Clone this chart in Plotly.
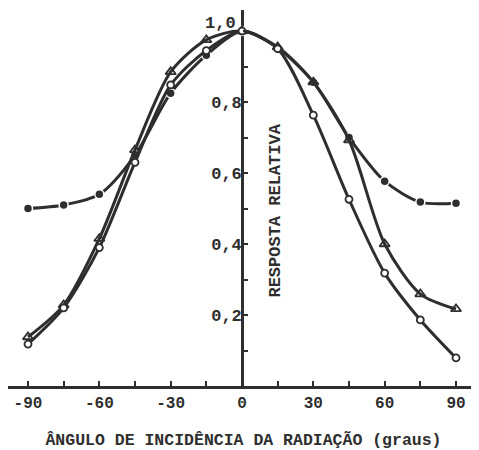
import plotly.graph_objects as go

angles = [-90, -75, -60, -45, -30, -15, 0, 15, 30, 45, 60, 75, 90]
serie_ponto = [0.50, 0.51, 0.54, 0.65, 0.825, 0.932, 1.0, 0.952, 0.856, 0.70, 0.577, 0.518, 0.515]
serie_triangulo = [0.138, 0.228, 0.415, 0.665, 0.885, 0.975, 1.0, 0.955, 0.856, 0.693, 0.40, 0.259, 0.217]
serie_circulo = [0.118, 0.22, 0.39, 0.63, 0.848, 0.945, 1.0, 0.95, 0.763, 0.526, 0.318, 0.186, 0.079]

xtick_vals = [-90, -75, -60, -45, -30, -15, 0, 15, 30, 45, 60, 75, 90]
xtick_text = ["-90", "", "-60", "", "-30", "", "0", "", "30", "", "60", "", "90"]
ytick_vals = [0.1, 0.2, 0.3, 0.4, 0.5, 0.6, 0.7, 0.8, 0.9, 1.0]
ytick_text = ["", "0,2", "", "0,4", "", "0,6", "", "0,8", "", ""]
top_label = "1,0"

INK = "#2e2e2e"
FONT = "Liberation Mono"

fig = go.Figure()
fig.add_trace(go.Scatter(
    x=angles, y=serie_ponto, mode="lines+markers",
    line=dict(color=INK, width=3, shape="spline", smoothing=0.8),
    marker=dict(symbol="circle", size=9, color=INK, line=dict(color="white", width=1.5)),
    showlegend=False))
fig.add_trace(go.Scatter(
    x=angles, y=serie_triangulo, mode="lines+markers",
    line=dict(color=INK, width=3, shape="spline", smoothing=0.8),
    marker=dict(symbol="triangle-up-open", size=9, color=INK, line=dict(color=INK, width=1.8)),
    showlegend=False))
fig.add_trace(go.Scatter(
    x=angles, y=serie_circulo, mode="lines+markers",
    line=dict(color=INK, width=3, shape="spline", smoothing=0.8),
    marker=dict(symbol="circle", size=7, color="white", line=dict(color=INK, width=1.8)),
    showlegend=False))

fig.add_annotation(x=14, y=0.495, xref="x", yref="y", text="RESPOSTA RELATIVA",
                   textangle=-90, showarrow=False,
                   font=dict(family=FONT, size=17, color=INK, weight="bold"))
fig.add_annotation(x=0, y=1.0, xref="x", yref="y", text=top_label,
                   xanchor="right", yanchor="middle", xshift=-4, yshift=8, showarrow=False,
                   font=dict(family=FONT, size=17, color=INK, weight="bold"))

fig.update_layout(
    width=471, height=442,
    margin=dict(l=0, r=0, t=2, b=64, autoexpand=False),
    paper_bgcolor="white", plot_bgcolor="white",
    xaxis=dict(range=[-98.41, 99.67], tickvals=xtick_vals, ticktext=xtick_text,
               automargin=False,
               ticks="inside", ticklen=5, tickwidth=2, tickcolor=INK,
               showline=True, linecolor=INK, linewidth=2.5,
               showgrid=False, zeroline=True, zerolinecolor=INK, zerolinewidth=2.5,
               tickfont=dict(family=FONT, size=16, color=INK, weight="bold"),
               title=dict(text="ÂNGULO DE INCIDÊNCIA DA RADIAÇÃO (graus)", standoff=23,
                          font=dict(family=FONT, size=16.5, color=INK, weight="bold"))),
    yaxis=dict(range=[0, 1.0592], tickvals=ytick_vals, ticktext=ytick_text,
               anchor="free", position=0.4964, side="left", automargin=False,
               ticks="inside", ticklen=5, tickwidth=2, tickcolor=INK,
               showline=False, showgrid=False, zeroline=False,
               tickfont=dict(family=FONT, size=17, color=INK, weight="bold")),
)

fig.write_html("out.html")
